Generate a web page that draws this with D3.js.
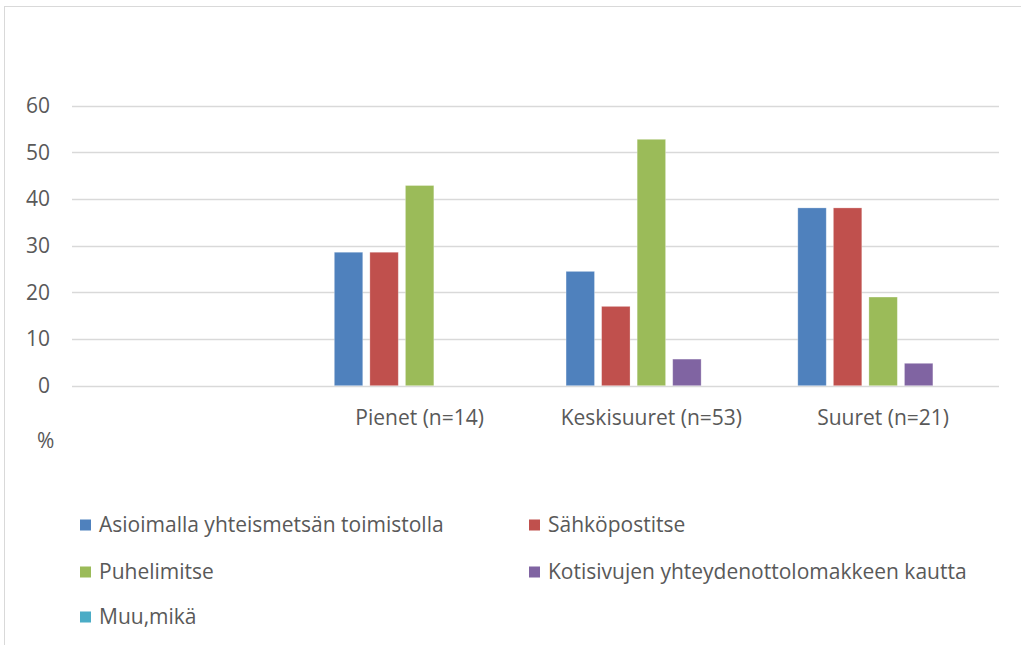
<!DOCTYPE html>
<html>
  <head>
    <meta charset="utf-8">
    <script src="https://cdn.jsdelivr.net/npm/d3@7"></script>
    <style>
      html, body { margin: 0; padding: 0; background: #fff; }
      body { font-family: "Open Sans", sans-serif; }
      svg text { fill: #595959; font-size: 21px; }
    </style>
  </head>
  <body>
    <svg width="1021" height="645"></svg>
    <script>
      // categories (first one has no label in the original)
      const categories = ["", "Pienet (n=14)", "Keskisuuret (n=53)", "Suuret (n=21)"];
      const seriesNames = [
        "Asioimalla yhteismetsän toimistolla",
        "Sähköpostitse",
        "Puhelimitse",
        "Kotisivujen yhteydenottolomakkeen kautta",
        "Muu,mikä"
      ];
      const seriesColors = ["#4F81BD", "#C0504D", "#9BBB59", "#8064A2", "#4BACC6"];
      // values per series, one per category
      const asioimalla = [0, 28.6, 24.5, 38.1];
      const sahkoposti = [0, 28.6, 17.0, 38.1];
      const puhelin = [0, 42.9, 52.8, 19.0];
      const kotisivut = [0, 0, 5.7, 4.8];
      const muu = [0, 0, 0, 0];
      const yTicks = [0, 10, 20, 30, 40, 50, 60];

      const seriesValues = [asioimalla, sahkoposti, puhelin, kotisivut, muu];

      const svg = d3.select("svg");

      // chart area border
      svg.append("rect")
        .attr("x", 4.5).attr("y", 6.5)
        .attr("width", 1040).attr("height", 700)
        .attr("fill", "none")
        .attr("stroke", "#d9d9d9")
        .attr("stroke-width", 1);

      const plotLeft = 72, plotRight = 999, plotTop = 105.7, plotBottom = 385.7;

      const x0 = d3.scaleBand().domain(categories.map((d, i) => i)).range([plotLeft, plotRight]);
      const x1 = d3.scaleBand().domain(seriesNames)
        .range([0, x0.bandwidth()])
        .paddingInner(0.2)
        .paddingOuter(0.86);
      const y = d3.scaleLinear().domain([0, 60]).range([plotBottom, plotTop]);

      // gridlines
      svg.append("g")
        .selectAll("line")
        .data(yTicks)
        .join("line")
        .attr("x1", plotLeft).attr("x2", plotRight)
        .attr("y1", d => Math.round(y(d)) + 0.5)
        .attr("y2", d => Math.round(y(d)) + 0.5)
        .attr("stroke", "#d9d9d9")
        .attr("stroke-width", 1.3);

      // y labels
      svg.append("g")
        .selectAll("text")
        .data(yTicks)
        .join("text")
        .attr("x", 50)
        .attr("y", d => y(d))
        .attr("dy", "0.35em")
        .attr("text-anchor", "end")
        .text(d => d);

      // bars
      const groups = svg.append("g")
        .selectAll("g")
        .data(categories.map((c, i) => i))
        .join("g")
        .attr("transform", i => `translate(${x0(i)},0)`);

      groups.selectAll("rect")
        .data(i => seriesNames.map((s, k) => ({ s, k, v: seriesValues[k][i] })).filter(d => d.v > 0))
        .join("rect")
        .attr("x", d => x1(d.s))
        .attr("width", x1.bandwidth())
        .attr("y", d => y(d.v))
        .attr("height", d => y(0) - y(d.v))
        .attr("fill", d => seriesColors[d.k])
        .attr("stroke", "rgba(255,255,255,0.35)")
        .attr("stroke-width", 0.8);

      // category labels
      svg.append("g")
        .selectAll("text")
        .data(categories)
        .join("text")
        .attr("x", (d, i) => x0(i) + x0.bandwidth() / 2)
        .attr("y", 418)
        .attr("dy", "0.35em")
        .attr("text-anchor", "middle")
        .text(d => d);

      // axis unit
      svg.append("text")
        .attr("x", 37).attr("y", 441)
        .attr("dy", "0.35em")
        .text("%");

      // legend
      const legendPos = [
        [80, 525], [529, 525],
        [80, 572], [529, 572],
        [80, 617]
      ];
      const legend = svg.append("g")
        .selectAll("g")
        .data(seriesNames)
        .join("g")
        .attr("transform", (d, i) => `translate(${legendPos[i][0]},${legendPos[i][1]})`);

      legend.append("rect")
        .attr("x", 0).attr("y", -5.5)
        .attr("width", 11).attr("height", 11)
        .attr("fill", (d, i) => seriesColors[i]);

      legend.append("text")
        .attr("x", 19).attr("y", 0)
        .attr("dy", "0.35em")
        .text(d => d);
    </script>
  </body>
</html>
